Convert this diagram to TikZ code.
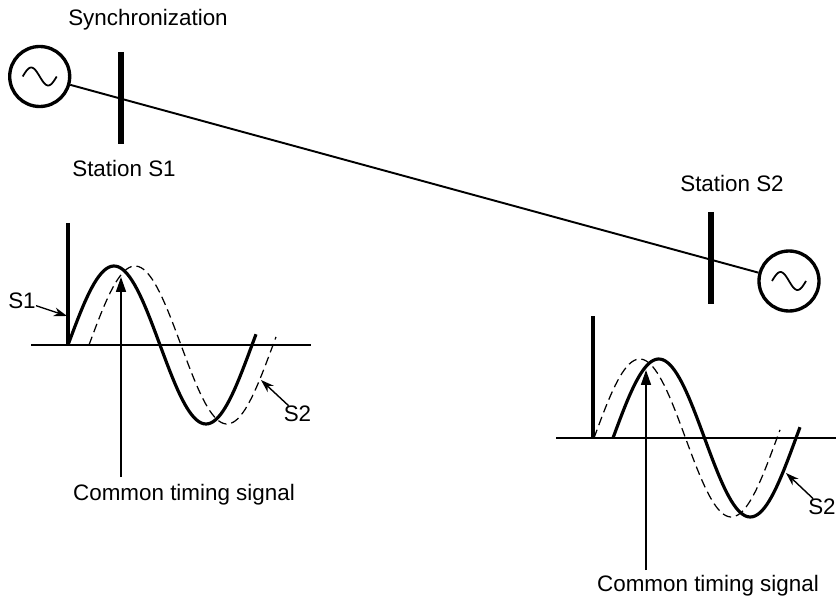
\documentclass[tikz,border=0pt]{standalone}
\usepackage{fontspec}
\setmainfont{Liberation Sans}
\usetikzlibrary{arrows.meta,positioning}

\begin{document}
\begin{tikzpicture}[
  x=0.02cm, y=-0.02cm,
  gen/.style={draw, circle, line width=1.9pt, minimum size=1.2cm, inner sep=0pt},
  bus/.style={line width=3.2pt},
  lbl/.style={font=\fontsize{12.75}{16}\selectfont, inner sep=0pt},
  feeder/.style={line width=1.1pt},
  axisline/.style={line width=1.1pt},
  yline/.style={line width=1.8pt},
  wavea/.style={line width=1.8pt},
  waveb/.style={line width=0.7pt, dash pattern=on 5pt off 2.8pt},
  arr/.style={-{Triangle[length=8.5pt, width=5.7pt]}, line width=0.8pt},
  leader/.style={-{Stealth[length=7.5pt, width=5pt]}, line width=0.8pt},
  tilde/.style={line width=1pt, smooth}
]
\useasboundingbox (0,0) rectangle (836,598);

% Generators
\node[gen] (gena) at (39.7,76.5) {};
\node[gen] (genb) at (789,281) {};
\draw[tilde] plot[domain=-17:17, samples=30] (39.7+\x, {76.5+9*sin(\x/34*360)});
\draw[tilde] plot[domain=-17:17, samples=30] (789+\x, {281+9*sin(\x/34*360)});
\draw[feeder] (gena) -- (genb);

% Stations
\coordinate (busatop) at (121,52);
\coordinate (busabot) at (121,144);
\coordinate (busbtop) at (711,212);
\coordinate (busbbot) at (711,304);
\draw[bus] (busatop) -- (busabot);
\draw[bus] (busbtop) -- (busbbot);
\node[lbl] (sync) at (148,20) {Synchronization};
\node[lbl] (stata) at (124,168) {Station S1};
\node[lbl] (statb) at (732,183) {Station S2};

% Left waveform
\coordinate (axaleft) at (31,345);
\coordinate (axaright) at (311,345);
\coordinate (yatop) at (68,223);
\coordinate (yabot) at (68,345);
\draw[axisline] (axaleft) -- (axaright);
\draw[yline] (yatop) -- (yabot);
\draw[wavea] plot[domain=68:256, samples=80] (\x, {345-79*sin((\x-68)/184*360)});
\draw[waveb] plot[domain=89:276, samples=80] (\x, {345-79*sin((\x-89)/184*360)});

\node[lbl] (cmna) at (184,495) {Common timing signal};
\coordinate (basea) at (121,477);
\coordinate (tipa) at (121,277);
\draw[arr] (basea) -- (tipa);

\node[lbl] (sonea) at (22,301) {S1};
\coordinate (tipsonea) at (67,316);
\draw[leader] (sonea) -- (tipsonea);
\node[lbl] (stwoa) at (297.5,414) {S2};
\coordinate (tipstwoa) at (261,380);
\draw[leader] (stwoa) -- (tipstwoa);

% Right waveform
\coordinate (axbleft) at (556,438);
\coordinate (axbright) at (836,438);
\coordinate (ybtop) at (593,316);
\coordinate (ybbot) at (593,438);
\draw[axisline] (axbleft) -- (axbright);
\draw[yline] (ybtop) -- (ybbot);
\draw[wavea] plot[domain=613:800, samples=80] (\x, {438-79*sin((\x-613)/183*360)});
\draw[waveb] plot[domain=594:780, samples=80] (\x, {438-79*sin((\x-594)/183*360)});

\node[lbl] (cmnb) at (708,586) {Common timing signal};
\coordinate (baseb) at (646,570);
\coordinate (tipb) at (646,370);
\draw[arr] (baseb) -- (tipb);

\node[lbl] (stwob) at (822,507) {S2};
\coordinate (tipstwob) at (786,473);
\draw[leader] (stwob) -- (tipstwob);

\end{tikzpicture}
\end{document}
